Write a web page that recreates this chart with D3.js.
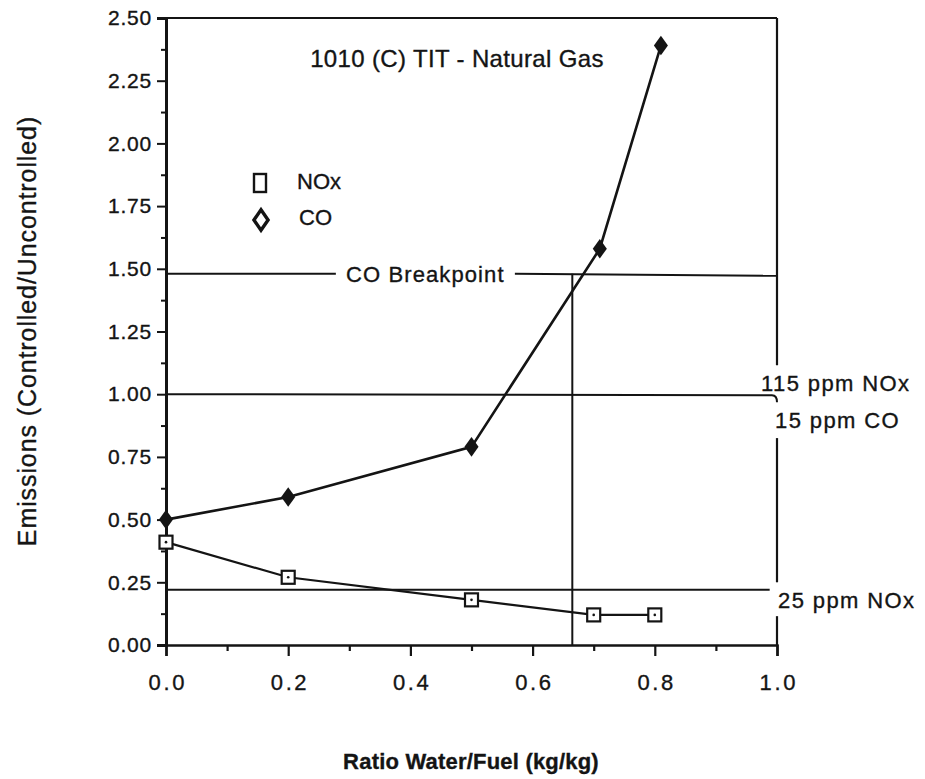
<!DOCTYPE html>
<html><head><meta charset="utf-8">
<script src="https://cdn.jsdelivr.net/npm/d3@7"></script>
<style>
body{margin:0;background:#fff}
text{font-family:"Liberation Sans",Arial,Helvetica,sans-serif;fill:#141414;stroke:#141414;stroke-width:0.35px}
</style>
</head><body>
<svg id="chart" width="925" height="779"></svg>
<script>
// ---------- data ----------
const xTickValues = [0, 0.2, 0.4, 0.6, 0.8, 1.0];
const xMinorTicks = [0.1, 0.3, 0.5, 0.7, 0.9];
const yTickValues = [0, 0.25, 0.5, 0.75, 1.0, 1.25, 1.5, 1.75, 2.0, 2.25, 2.5];
const yMinorTicks = [0.125, 0.375, 0.625, 0.875, 1.125, 1.375, 1.625, 1.875, 2.125, 2.375];

const noxX = [0, 0.2, 0.5, 0.7, 0.8];
const noxValues = [0.41, 0.27, 0.18, 0.12, 0.12];
const coX = [0, 0.2, 0.5, 0.71, 0.81];
const coValues = [0.50, 0.59, 0.79, 1.58, 2.39];

const legendLabels = ["NOx", "CO"];
const titleText = "1010 (C) TIT -  Natural Gas";
const xTitle = "Ratio Water/Fuel (kg/kg)";
const yTitle = "Emissions (Controlled/Uncontrolled)";

const breakpointLevel = 1.48;
const breakpointX = 0.665;
const breakpointLabel = "CO Breakpoint";
const limit115Level = 1.00;
const limit25Level = 0.22;
const rightLabels = ["115 ppm NOx", "15 ppm CO", "25 ppm NOx"];

// ---------- scales ----------
const svg = d3.select("#chart");
const x = d3.scaleLinear().domain([0, 1]).range([166, 777]);
const y = d3.scaleLinear().domain([0, 2.5]).range([645, 18]);
const ink = "#141414";

// ---------- axes ----------
const gy = svg.append("g").attr("transform", `translate(${x(0)},0)`)
  .call(d3.axisLeft(y).tickValues(yTickValues).tickSize(9).tickPadding(5)
    .tickFormat(d3.format(".2f")));
gy.select(".domain").attr("stroke", ink).attr("stroke-width", 3);
gy.selectAll(".tick line").attr("stroke", ink).attr("stroke-width", 2);
gy.selectAll(".tick text").attr("font-size", 21).attr("letter-spacing", 0.8).attr("fill", ink);

const gyMinor = svg.append("g").attr("transform", `translate(${x(0)},0)`)
  .call(d3.axisLeft(y).tickValues(yMinorTicks).tickSize(5).tickFormat(""));
gyMinor.select(".domain").remove();
gyMinor.selectAll(".tick line").attr("stroke", ink).attr("stroke-width", 2);

const gx = svg.append("g").attr("transform", `translate(0,${y(0)})`)
  .call(d3.axisBottom(x).tickValues(xTickValues).tickSize(11).tickPadding(18)
    .tickFormat(d3.format(".1f")));
gx.select(".domain").attr("stroke", ink).attr("stroke-width", 2.5);
gx.selectAll(".tick line").attr("stroke", ink).attr("stroke-width", 2.2);
gx.selectAll(".tick text").attr("font-size", 22).attr("letter-spacing", 2.6).attr("fill", ink)
  .attr("dx", 1.3);

const gxMinor = svg.append("g").attr("transform", `translate(0,${y(0)})`)
  .call(d3.axisBottom(x).tickValues(xMinorTicks).tickSize(6).tickFormat(""));
gxMinor.select(".domain").remove();
gxMinor.selectAll(".tick line").attr("stroke", ink).attr("stroke-width", 2.2);

// ---------- frame: top and broken right border ----------
const frame = svg.append("g").attr("stroke", ink).attr("stroke-width", 2.2).attr("fill", "none");
frame.append("line").attr("x1", x(0) - 8).attr("x2", x(1)).attr("y1", y(2.5)).attr("y2", y(2.5));
[[2.5, 1.115], [0.825, 0.25], [0.115, 0]].forEach(([a, b]) => {
  frame.append("line").attr("x1", x(1)).attr("x2", x(1)).attr("y1", y(a)).attr("y2", y(b));
});

// ---------- reference lines ----------
const ref = svg.append("g").attr("stroke", ink).attr("stroke-width", 2).attr("fill", "none");
ref.append("line").attr("x1", x(0)).attr("x2", x(0.278)).attr("y1", y(breakpointLevel)).attr("y2", y(breakpointLevel));
ref.append("line").attr("x1", x(0.571)).attr("x2", x(1)).attr("y1", y(breakpointLevel)).attr("y2", y(breakpointLevel) + 2);
ref.append("line").attr("x1", x(breakpointX)).attr("x2", x(breakpointX)).attr("y1", y(breakpointLevel)).attr("y2", y(0));
ref.append("path").attr("d",
  `M${x(0)},${y(limit115Level)} L${x(1) - 5},${y(limit115Level) + 1} Q${x(1)},${y(limit115Level) + 1} ${x(1)},${y(limit115Level) + 8}`);
ref.append("line").attr("x1", x(0)).attr("x2", x(0.988)).attr("y1", y(limit25Level)).attr("y2", y(limit25Level));

svg.append("text").attr("x", x(0.4245)).attr("y", y(breakpointLevel) + 8)
  .attr("text-anchor", "middle").attr("font-size", 22).attr("letter-spacing", 1.1)
  .text(breakpointLabel);

const rl = svg.append("g").attr("font-size", 22).attr("letter-spacing", 1.4);
rl.append("text").attr("x", 761).attr("y", y(limit115Level) - 3).text(rightLabels[0]);
rl.append("text").attr("x", 775).attr("y", y(limit115Level) + 34).text(rightLabels[1]);
rl.append("text").attr("x", 778).attr("y", y(limit25Level) + 18).text(rightLabels[2]);

// ---------- series ----------
const line = d3.line().x(d => x(d[0])).y(d => y(d[1]));
const coData = coX.map((v, i) => [v, coValues[i]]);
const noxData = noxX.map((v, i) => [v, noxValues[i]]);

svg.append("path").datum(coData).attr("d", line)
  .attr("fill", "none").attr("stroke", ink).attr("stroke-width", 2.6);
svg.append("path").datum(noxData).attr("d", line)
  .attr("fill", "none").attr("stroke", ink).attr("stroke-width", 2.2);

const diamond = d3.symbol().type(d3.symbolDiamond).size(110);
svg.append("g").selectAll("path").data(coData).join("path")
  .attr("transform", d => `translate(${x(d[0])},${y(d[1])}) scale(1.25,1)`)
  .attr("d", diamond).attr("fill", ink);

const sq = svg.append("g").selectAll("g").data(noxData).join("g")
  .attr("transform", d => `translate(${x(d[0])},${y(d[1])})`);
sq.append("rect").attr("x", -6.5).attr("y", -6.5).attr("width", 13).attr("height", 13)
  .attr("fill", "#fff").attr("stroke", ink).attr("stroke-width", 2.2);
sq.append("circle").attr("r", 1.3).attr("fill", ink);

// ---------- legend ----------
const lg = svg.append("g");
lg.append("rect").attr("x", 254).attr("y", 174).attr("width", 12).attr("height", 18)
  .attr("fill", "none").attr("stroke", ink).attr("stroke-width", 2.4);
lg.append("path").attr("d", d3.symbol().type(d3.symbolDiamond).size(120)())
  .attr("transform", "translate(261,220) scale(1.2,1)").attr("fill", "none")
  .attr("stroke", ink).attr("stroke-width", 3);
lg.append("text").attr("x", 297).attr("y", 189).attr("font-size", 22).text(legendLabels[0]);
lg.append("text").attr("x", 299).attr("y", 225).attr("font-size", 22).text(legendLabels[1]);

// ---------- titles ----------
svg.append("text").attr("x", 457).attr("y", 67).attr("text-anchor", "middle")
  .attr("font-size", 24).attr("letter-spacing", 0.35).text(titleText);
svg.append("text").attr("x", 471).attr("y", 769).attr("text-anchor", "middle")
  .attr("font-size", 22).attr("font-weight", "bold").attr("letter-spacing", 0.2).text(xTitle);
svg.append("text").attr("transform", "translate(36,331) rotate(-90)").attr("text-anchor", "middle")
  .attr("font-size", 25).attr("letter-spacing", 0.9).text(yTitle);
</script>
</body></html>
